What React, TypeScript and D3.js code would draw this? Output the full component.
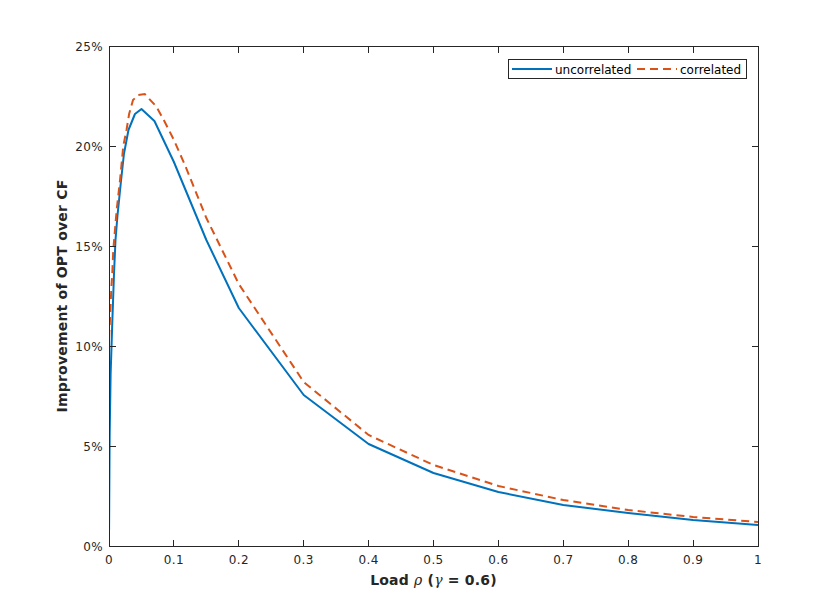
import React from "react";
import * as d3 from "d3";

const uncorrX = [0.0001, 0.001, 0.0025, 0.005, 0.0077, 0.01, 0.013, 0.018, 0.023, 0.03, 0.04, 0.05, 0.07, 0.1, 0.15, 0.2, 0.3, 0.4, 0.5, 0.6, 0.7, 0.8, 0.9, 1.0];
const uncorrY = [0.8, 5.5, 8.6, 11.1, 13.6, 15.3, 16.5, 18.1, 19.6, 20.8, 21.6, 21.85, 21.25, 19.2, 15.3, 11.9, 7.55, 5.1, 3.65, 2.7, 2.05, 1.65, 1.3, 1.05];
const corrX = [0.0001, 0.0015, 0.0036, 0.005, 0.0066, 0.0118, 0.017, 0.022, 0.027, 0.031, 0.037, 0.045, 0.055, 0.073, 0.086, 0.1, 0.117, 0.15, 0.2, 0.3, 0.4, 0.5, 0.6, 0.7, 0.8, 0.9, 1.0];
const corrY = [10.4, 11.3, 12.9, 13.6, 14.8, 16.8, 18.3, 20.0, 20.8, 21.6, 22.3, 22.55, 22.6, 21.97, 21.2, 20.3, 19.05, 16.4, 13.1, 8.2, 5.55, 4.05, 3.0, 2.3, 1.8, 1.45, 1.2];
const xTicks = [0, 0.1, 0.2, 0.3, 0.4, 0.5, 0.6, 0.7, 0.8, 0.9, 1];
const yTicks = [0, 5, 10, 15, 20, 25];
const seriesNames = ["uncorrelated", "correlated"];

const W = 839, H = 614;
const L = 109, R = 758, T = 46, B = 546;
const font = "DejaVu Sans, sans-serif";
const axisColor = "#262626";

export default function App() {
  const x = d3.scaleLinear().domain([0, 1]).range([L, R]);
  const y = d3.scaleLinear().domain([0, 25]).range([B, T]);
  const line = d3.line<[number, number]>().x(d => x(d[0])).y(d => y(d[1]));
  const uData = uncorrX.map((v, i) => [v, uncorrY[i]] as [number, number]);
  const cData = corrX.map((v, i) => [v, corrY[i]] as [number, number]);
  const tl = 6.5;
  return (
    <svg width={W} height={H} style={{ position: "absolute", left: 0, top: 0, background: "#fff" }}>
      <rect x={0} y={0} width={W} height={H} fill="#fff" />
      <rect x={L} y={T} width={R - L} height={B - T} fill="#fff" />
      <defs>
        <clipPath id="plotclip">
          <rect x={L} y={T} width={R - L} height={B - T} />
        </clipPath>
      </defs>
      <g clipPath="url(#plotclip)">
        <path d={line(uData) || ""} fill="none" stroke="#0072BD" strokeWidth={2} strokeLinejoin="round" />
        <path d={line(cData) || ""} fill="none" stroke="#D95319" strokeWidth={2} strokeDasharray="8,5" />
      </g>
      <rect x={L} y={T} width={R - L} height={B - T} fill="none" stroke={axisColor} strokeWidth={1} shapeRendering="crispEdges" />
      {xTicks.map(t => (
        <g key={"x" + t}>
          <line x1={x(t)} x2={x(t)} y1={B} y2={B - tl} stroke={axisColor} shapeRendering="crispEdges" />
          <line x1={x(t)} x2={x(t)} y1={T} y2={T + tl} stroke={axisColor} shapeRendering="crispEdges" />
          <text x={x(t)} y={B + 18} textAnchor="middle" fontFamily={font} fontSize={12} letterSpacing={0.4} fill={axisColor}>{String(t)}</text>
        </g>
      ))}
      {yTicks.map(t => (
        <g key={"y" + t}>
          <line x1={L} x2={L + tl} y1={y(t)} y2={y(t)} stroke={axisColor} shapeRendering="crispEdges" />
          <line x1={R} x2={R - tl} y1={y(t)} y2={y(t)} stroke={axisColor} shapeRendering="crispEdges" />
          <text x={L - 6} y={y(t) + 4.5} textAnchor="end" fontFamily={font} fontSize={12} letterSpacing={0.4} fill={axisColor}>{t + "%"}</text>
        </g>
      ))}
      <text x={(L + R) / 2} y={585} textAnchor="middle" fontFamily={font} fontSize={14} fontWeight="bold" letterSpacing={0.2} fill={axisColor}>
        Load <tspan fontStyle="italic" fontWeight="normal" fontFamily="DejaVu Serif, serif">ρ</tspan> (<tspan fontStyle="italic" fontWeight="normal" fontFamily="DejaVu Serif, serif">γ</tspan> = 0.6)
      </text>
      <text transform={`translate(66.5,${(T + B) / 2}) rotate(-90)`} textAnchor="middle" fontFamily={font} fontSize={14} fontWeight="bold" letterSpacing={0.2} fill={axisColor}>
        Improvement of OPT over CF
      </text>
      <rect x={508.5} y={59.5} width={238} height={19} fill="#fff" stroke={axisColor} strokeWidth={1} shapeRendering="crispEdges" />
      <line x1={512} x2={552} y1={69} y2={69} stroke="#0072BD" strokeWidth={2} />
      <text x={555} y={73.5} fontFamily={font} fontSize={12} fill="#000">{seriesNames[0]}</text>
      <line x1={637} x2={677} y1={69} y2={69} stroke="#D95319" strokeWidth={2} strokeDasharray="8,5" />
      <text x={680} y={73.5} fontFamily={font} fontSize={12} fill="#000">{seriesNames[1]}</text>
    </svg>
  );
}
